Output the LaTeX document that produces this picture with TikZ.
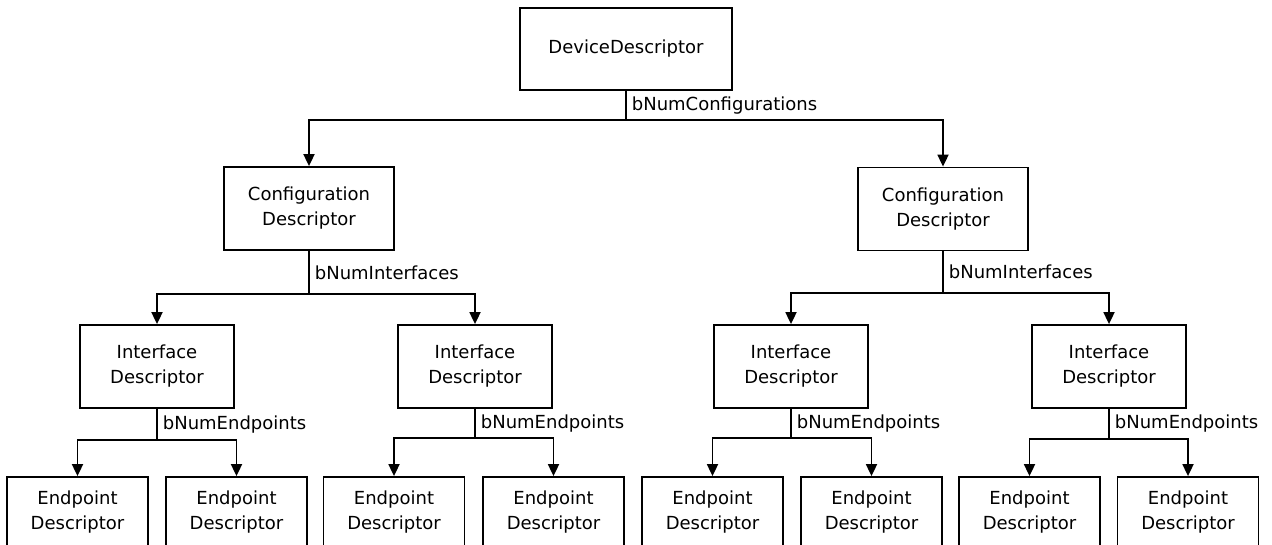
\documentclass[tikz,border=0pt]{standalone}
\usepackage{fontspec}
\setmainfont{DejaVu Sans}
\usetikzlibrary{arrows.meta}

\begin{document}
\begin{tikzpicture}[x=1pt,y=-1pt,line width=1.8pt,
  desc/.style={draw,align=center,inner sep=0pt,font=\fontsize{18}{25}\selectfont},
  devnode/.style={desc,minimum width=212pt,minimum height=82pt},
  cfgnode/.style={desc,minimum width=170pt,minimum height=83pt},
  ifnode/.style={desc,minimum width=154pt,minimum height=83pt},
  epnode/.style={desc,minimum width=141pt,minimum height=70pt},
  cnt/.style={anchor=west,inner sep=5pt,font=\fontsize{18}{20}\selectfont},
  link/.style={-{Triangle[width=11pt,length=12pt]}}]

  \useasboundingbox (0,0) rectangle (1272,544);
  \clip (0,0) rectangle (1272,544);

  \node[devnode] (dev) at (626,49) {DeviceDescriptor};

  \node[cfgnode] (cfg1) at (309,208.5) {Configuration\\Descriptor};
  \node[cfgnode] (cfg2) at (943,209) {Configuration\\Descriptor};

  \node[ifnode] (if1) at (157,366.5) {Interface\\Descriptor};
  \node[ifnode] (if2) at (475,366.5) {Interface\\Descriptor};
  \node[ifnode] (if3) at (791,366.5) {Interface\\Descriptor};
  \node[ifnode] (if4) at (1109,366.5) {Interface\\Descriptor};

  \node[epnode] (ep1) at (77.5,512) {Endpoint\\Descriptor};
  \node[epnode] (ep2) at (236.5,512) {Endpoint\\Descriptor};
  \node[epnode] (ep3) at (394,512) {Endpoint\\Descriptor};
  \node[epnode] (ep4) at (553.5,512) {Endpoint\\Descriptor};
  \node[epnode] (ep5) at (712.5,512) {Endpoint\\Descriptor};
  \node[epnode] (ep6) at (871.5,512) {Endpoint\\Descriptor};
  \node[epnode] (ep7) at (1029.5,512) {Endpoint\\Descriptor};
  \node[epnode] (ep8) at (1188,512) {Endpoint\\Descriptor};

  % branch points
  \coordinate (jdev) at (626,120);
  \coordinate (jcfg1) at (309,294);
  \coordinate (jcfg2) at (943,293);
  \coordinate (jif1) at (157,440);
  \coordinate (jif2) at (475,438);
  \coordinate (jif3) at (791,438);
  \coordinate (jif4) at (1109,439);

  % device to configurations
  \draw[link] (dev) -- node[cnt] {bNumConfigurations} (jdev) -| (cfg1);
  \draw[link] (jdev) -| (cfg2);

  % configurations to interfaces
  \draw[link] (cfg1) -- node[cnt] {bNumInterfaces} (jcfg1) -| (if1);
  \draw[link] (jcfg1) -| (if2);
  \draw[link] (cfg2) -- node[cnt] {bNumInterfaces} (jcfg2) -| (if3);
  \draw[link] (jcfg2) -| (if4);

  % interfaces to endpoints
  \draw[link] (if1) -- node[cnt] {bNumEndpoints} (jif1) -| (ep1);
  \draw[link] (jif1) -| (ep2);
  \draw[link] (if2) -- node[cnt] {bNumEndpoints} (jif2) -| (ep3);
  \draw[link] (jif2) -| (ep4);
  \draw[link] (if3) -- node[cnt] {bNumEndpoints} (jif3) -| (ep5);
  \draw[link] (jif3) -| (ep6);
  \draw[link] (if4) -- node[cnt] {bNumEndpoints} (jif4) -| (ep7);
  \draw[link] (jif4) -| (ep8);

\end{tikzpicture}
\end{document}
